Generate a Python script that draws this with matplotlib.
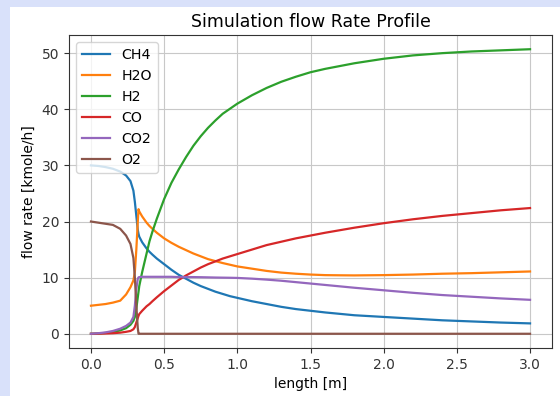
import matplotlib
matplotlib.use("Agg")
import matplotlib.pyplot as plt
from matplotlib.patches import Rectangle

length = [0.0, 0.05, 0.1, 0.15, 0.2, 0.24, 0.27, 0.29, 0.30, 0.31, 0.32, 0.325, 0.33,
          0.35, 0.38, 0.4, 0.42, 0.45, 0.5, 0.55, 0.6, 0.65, 0.7, 0.75, 0.8, 0.85, 0.9,
          0.95, 1.0, 1.1, 1.2, 1.3, 1.4, 1.5, 1.6, 1.7, 1.8, 2.0,
          2.2, 2.4, 2.6, 2.8, 3.0]

ch4 = [30.0, 29.9, 29.7, 29.4, 28.9, 28.2, 27.2, 25.5, 23.5, 21.0, 18.5, 17.8, 17.3,
       16.3, 15.2, 14.6, 14.1, 13.4, 12.4, 11.4, 10.5, 9.8, 9.1, 8.5, 8.0, 7.5, 7.1,
       6.7, 6.4, 5.8, 5.3, 4.8, 4.4, 4.1, 3.8, 3.55, 3.3, 3.0,
       2.7, 2.4, 2.2, 2.0, 1.85]

h2o = [5.0, 5.15, 5.3, 5.55, 5.9, 7.0, 8.3, 9.5, 11.0, 15.0, 20.0, 22.2, 21.8,
       20.9, 19.8, 19.2, 18.7, 18.0, 17.0, 16.2, 15.5, 14.9, 14.3, 13.8, 13.3, 12.95, 12.6,
       12.3, 12.0, 11.6, 11.2, 10.9, 10.7, 10.55, 10.45, 10.42, 10.4, 10.45,
       10.55, 10.7, 10.8, 10.95, 11.1]

h2 = [0.0, 0.05, 0.15, 0.3, 0.6, 1.0, 1.6, 2.3, 3.0, 4.5, 6.5, 7.5, 8.5,
      11.0, 14.3, 16.5, 18.2, 20.5, 24.0, 26.9, 29.3, 31.5, 33.5, 35.2, 36.7, 38.0, 39.2,
      40.1, 41.0, 42.5, 43.8, 44.9, 45.8, 46.6, 47.2, 47.7, 48.2, 49.0,
      49.6, 50.0, 50.3, 50.5, 50.7]

co = [0.0, 0.02, 0.05, 0.1, 0.2, 0.35, 0.5, 0.8, 1.2, 2.0, 2.8, 3.2, 3.5,
      4.1, 4.9, 5.3, 5.8, 6.5, 7.6, 8.6, 9.6, 10.4, 11.1, 11.8, 12.4, 12.9, 13.4,
      13.8, 14.2, 15.0, 15.8, 16.4, 17.0, 17.5, 18.0, 18.45, 18.9, 19.7,
      20.4, 21.0, 21.5, 22.0, 22.4]

co2 = [0.0, 0.1, 0.25, 0.5, 0.9, 1.4, 2.0, 3.0, 5.0, 8.0, 9.8, 10.05, 10.1,
       10.15, 10.15, 10.15, 10.15, 10.15, 10.15, 10.15, 10.1, 10.1, 10.1, 10.08, 10.05, 10.02, 10.0,
       9.98, 9.95, 9.82, 9.65, 9.45, 9.2, 8.95, 8.7, 8.45, 8.2, 7.75,
       7.3, 6.9, 6.6, 6.3, 6.05]

o2 = [20.0, 19.8, 19.6, 19.4, 18.7, 17.5, 16.0, 13.5, 10.0, 5.0, 1.0, 0.0, 0.0,
      0.0, 0.0, 0.0, 0.0, 0.0, 0.0, 0.0, 0.0, 0.0, 0.0, 0.0, 0.0, 0.0, 0.0,
      0.0, 0.0, 0.0, 0.0, 0.0, 0.0, 0.0, 0.0, 0.0, 0.0, 0.0,
      0.0, 0.0, 0.0, 0.0, 0.0]

series = [("CH4", ch4), ("H2O", h2o), ("H2", h2), ("CO", co), ("CO2", co2), ("O2", o2)]

fig = plt.figure(figsize=(5.6, 3.96), dpi=100)
fig.patch.set_facecolor("#d9e1fa")
fig.patches.append(Rectangle((10 / 560, 0), 550 / 560, 389 / 396, transform=fig.transFigure,
                             facecolor="white", edgecolor="none", zorder=-1))
ax = fig.add_axes([69 / 560, (396 - 348) / 396, (552 - 69) / 560, (348 - 35) / 396])

for name, vals in series:
    ax.plot(length, vals, label=name, linewidth=1.6)

ax.set_title("Simulation flow Rate Profile", fontsize=12.5)
ax.set_xlabel("length [m]", fontsize=10)
ax.set_ylabel("flow rate [kmole/h]", fontsize=10)
ax.tick_params(labelsize=10, colors="#333333", labelcolor="#333333")
ax.grid(True, color="#c8c8c8")
for s in ax.spines.values():
    s.set_edgecolor("#333333")
ax.legend(loc="upper left", fontsize=10.2)

fig.savefig("out.png", dpi=100, facecolor=fig.get_facecolor())
